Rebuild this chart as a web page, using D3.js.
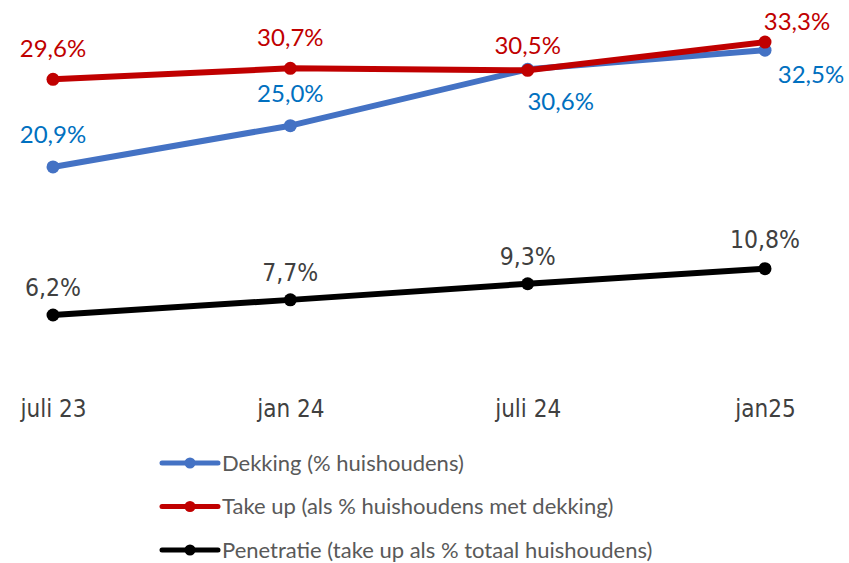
<!DOCTYPE html>
<html lang="nl">
<head>
<meta charset="UTF-8">
<title>Dekking, take up en penetratie</title>
<style>
  *{margin:0;padding:0;}
  body{background:#fff;}
  #container{width:849px;height:563px;}
</style>
</head>
<body>
<div id="container"></div>
<script src="https://cdn.jsdelivr.net/npm/d3@7/dist/d3.min.js"></script>
<script>
var categories = ['juli 23', 'jan 24', 'juli 24', 'jan25']
var dekking = [20.9, 25.0, 30.6, 32.5]
var takeUp = [29.6, 30.7, 30.5, 33.3]
var penetratie = [6.2, 7.7, 9.3, 10.8]
var seriesNames = ['Dekking (% huishoudens)', 'Take up (als % huishoudens met dekking)', 'Penetratie (take up als % totaal huishoudens)']

var W = 849, H = 563
var calibri = 'Lato, "Open Sans", sans-serif'
var narrow = '"DejaVu Sans Condensed", "Liberation Sans Narrow", sans-serif'

// label placement per point [dx, dy] relative to the marker
var series = [
  {name: seriesNames[0], values: dekking, line: '#4472C4', text: '#0070C0', font: calibri, size: 24,
   offs: [[0, -24], [0, -24], [33, 41], [46, 33]]},
  {name: seriesNames[1], values: takeUp, line: '#C00000', text: '#C00000', font: calibri, size: 24,
   offs: [[0, -22], [0, -22], [0, -16], [32, -12]]},
  {name: seriesNames[2], values: penetratie, line: '#000000', text: '#404040', font: narrow, size: 24.5,
   offs: [[0, -19], [0, -19], [0, -19], [0, -21]]}
]

var svg = d3.select('#container').append('svg').attr('width', W).attr('height', H)

var x = d3.scalePoint().domain(categories).range([53, 765])
var y = d3.scaleLinear().domain([0, 35]).range([377.4, 25])

var line = d3.line().x(function(d, i){ return x(categories[i]) }).y(function(d){ return y(d) })

series.forEach(function(s){
  var g = svg.append('g')
  g.append('path').attr('d', line(s.values))
    .attr('fill', 'none').attr('stroke', s.line).attr('stroke-width', 6)
    .attr('stroke-linejoin', 'round')
  g.selectAll('circle').data(s.values).enter().append('circle')
    .attr('cx', function(d, i){ return x(categories[i]) })
    .attr('cy', function(d){ return y(d) })
    .attr('r', 6.5).attr('fill', s.line)
})

series.forEach(function(s){
  svg.append('g').selectAll('text').data(s.values).enter().append('text')
    .attr('x', function(d, i){ return x(categories[i]) + s.offs[i][0] })
    .attr('y', function(d, i){ return y(d) + s.offs[i][1] })
    .attr('text-anchor', 'middle')
    .attr('font-family', s.font).attr('font-size', s.size)
    .attr('fill', s.text)
    .text(function(d){ return d.toFixed(1).replace('.', ',') + '%' })
})

// category axis (no line, labels only)
var xAxis = d3.axisBottom(x).tickSize(0).tickPadding(0)
var ax = svg.append('g').attr('transform', 'translate(0,400)').call(xAxis)
ax.select('.domain').remove()
ax.selectAll('text').attr('font-family', narrow).attr('font-size', 24)
  .attr('fill', '#404040').attr('dy', '0.72em')

// legend
var leg = svg.append('g').attr('transform', 'translate(162,463)')
var rows = leg.selectAll('g').data(series).enter().append('g')
  .attr('transform', function(d, i){ return 'translate(0,' + (i * 43.5) + ')' })
rows.append('line').attr('x1', 0).attr('x2', 56).attr('y1', 0).attr('y2', 0)
  .attr('stroke', function(d){ return d.line }).attr('stroke-width', 5)
  .attr('stroke-linecap', 'round')
rows.append('circle').attr('cx', 28).attr('cy', 0).attr('r', 5.5)
  .attr('fill', function(d){ return d.line })
rows.append('text').attr('x', 60).attr('y', 0).attr('dy', '0.35em')
  .attr('font-family', calibri).attr('font-size', 22).attr('fill', '#595959')
  .text(function(d){ return d.name })
</script>
</body>
</html>
